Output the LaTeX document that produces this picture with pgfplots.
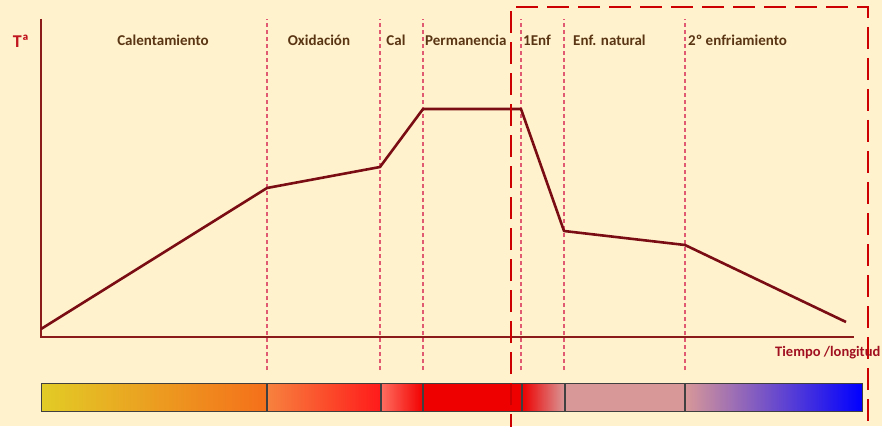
\documentclass[border=0pt]{standalone}
\usepackage{pgfplots}
\pgfplotsset{compat=1.18}
\usepackage{fontspec}
\setmainfont{Carlito}
\definecolor{bg}{HTML}{FFF2CC}
\definecolor{axiscol}{HTML}{8B1A1A}
\definecolor{curve}{HTML}{7A0C14}
\definecolor{vline}{HTML}{E05A72}
\definecolor{lbl}{HTML}{5A3514}
\definecolor{tred}{HTML}{C0141E}
\definecolor{tiempo}{HTML}{A01020}
\definecolor{box}{HTML}{CC0000}
\definecolor{c1a}{HTML}{E2CC26}
\definecolor{c1b}{HTML}{F56F1A}
\definecolor{c2a}{HTML}{F7823E}
\definecolor{c2b}{HTML}{FF1A1A}
\definecolor{c3a}{HTML}{FF6E60}
\definecolor{c3b}{HTML}{F20000}
\definecolor{c4}{HTML}{EE0000}
\definecolor{c5b}{HTML}{D89898}
\definecolor{c7b}{HTML}{0000FF}
\begin{document}
\begin{tikzpicture}
\begin{axis}[
  scale only axis, width=882pt, height=426pt,
  xmin=0, xmax=882, ymin=0, ymax=426,
  hide axis, clip=true,
]
% background
\addplot[draw=none, fill=bg] coordinates {(0,0)(882,0)(882,426)(0,426)} -- cycle;
% colour bar segments
\addplot[draw=none, left color=c1a, right color=c1b] coordinates {(41,15)(267,15)(267,43)(41,43)} -- cycle;
\addplot[draw=none, left color=c2a, right color=c2b] coordinates {(267,15)(381,15)(381,43)(267,43)} -- cycle;
\addplot[draw=none, left color=c3a, right color=c3b] coordinates {(381,15)(423,15)(423,43)(381,43)} -- cycle;
\addplot[draw=none, fill=c4] coordinates {(423,15)(522,15)(522,43)(423,43)} -- cycle;
\addplot[draw=none, left color=c4, right color=c5b] coordinates {(522,15)(565,15)(565,43)(522,43)} -- cycle;
\addplot[draw=none, fill=c5b] coordinates {(565,15)(685,15)(685,43)(565,43)} -- cycle;
\addplot[draw=none, left color=c5b, right color=c7b] coordinates {(685,15)(862,15)(862,43)(685,43)} -- cycle;
\addplot[draw=black!75, line width=1pt] coordinates {(41,15)(862,15)(862,43)(41,43)} -- cycle;
\addplot[draw=black!75, line width=1.1pt] coordinates {(267,15)(267,43)};
\addplot[draw=black!75, line width=1.1pt] coordinates {(381,15)(381,43)};
\addplot[draw=black!75, line width=1.1pt] coordinates {(423,15)(423,43)};
\addplot[draw=black!75, line width=1.1pt] coordinates {(522,15)(522,43)};
\addplot[draw=black!75, line width=1.1pt] coordinates {(565,15)(565,43)};
\addplot[draw=black!75, line width=1.1pt] coordinates {(685,15)(685,43)};
% dotted phase separators
\foreach \xv in {267,380,423,521,564,685}{
  \edef\tmp{\noexpand\addplot[draw=vline, line width=1.2pt, dash pattern=on 4pt off 3pt] coordinates {(\xv,56)(\xv,407)};}
  \tmp
}
% axes
\addplot[draw=axiscol, line width=1.6pt] coordinates {(41,407)(41,89)(854,89)};
% temperature curve
\addplot[draw=curve, line width=2.6pt, line join=round] coordinates {
  (41,97) (267,238) (380,259) (423,317) (521,317) (564,195) (685,181) (846,104)
};
% dashed box
\addplot[draw=box, line width=2.8pt, dash pattern=on 22pt off 9pt] coordinates {(511,-10)(511,419)(868,419)(868,-10)};
% labels
\node[font=\bfseries\fontsize{15}{17}\selectfont, text=lbl] at (axis cs:163,386) {Calentamiento};
\node[font=\bfseries\fontsize{15}{17}\selectfont, text=lbl] at (axis cs:319,386) {Oxidación};
\node[font=\bfseries\fontsize{15}{17}\selectfont, text=lbl] at (axis cs:396,386) {Cal};
\node[font=\bfseries\fontsize{15}{17}\selectfont, text=lbl, anchor=west, inner sep=0pt] at (axis cs:425,386) {Permanencia};
\node[font=\bfseries\fontsize{15}{17}\selectfont, text=lbl, anchor=west, inner sep=0pt] at (axis cs:523,386) {1Enf};
\node[font=\bfseries\fontsize{15}{17}\selectfont, text=lbl, anchor=west, inner sep=0pt] at (axis cs:573,386) {Enf. natural};
\node[font=\bfseries\fontsize{15}{17}\selectfont, text=lbl, anchor=west, inner sep=0pt] at (axis cs:688,386) {2º enfriamiento};
\node[font=\bfseries\fontsize{18}{20}\selectfont, text=tred] at (axis cs:21,385) {Tª};
\node[font=\bfseries\fontsize{14.5}{16}\selectfont, text=tiempo, anchor=west, inner sep=0pt] at (axis cs:775,73) {Tiempo /longitud};
\end{axis}
\end{tikzpicture}
\end{document}
